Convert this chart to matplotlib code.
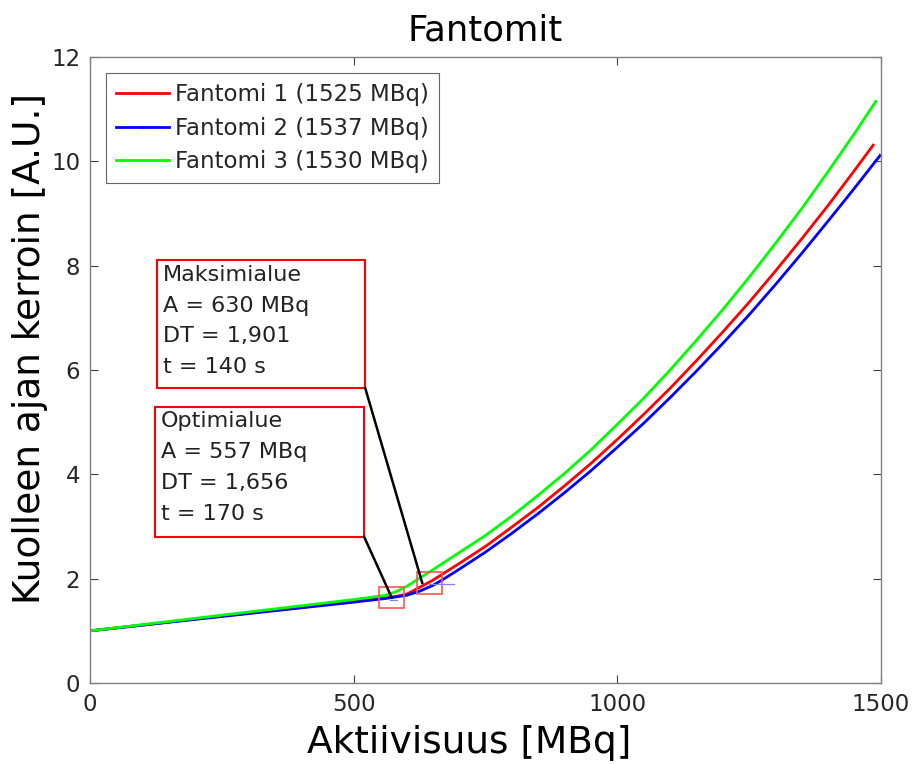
import matplotlib
matplotlib.use("Agg")
import matplotlib.pyplot as plt
from matplotlib.patches import Rectangle

# ---- data ----
x_red = [0, 100, 200, 300, 400, 500, 560, 580, 600, 630, 650, 700, 750, 800, 850, 900, 950,
         1000, 1050, 1100, 1150, 1200, 1250, 1300, 1350, 1400, 1450, 1485]
y_red = [1.00, 1.11, 1.23, 1.34, 1.45, 1.56, 1.63, 1.66, 1.70, 1.86, 1.97, 2.29, 2.62, 2.99, 3.37, 3.78, 4.21,
         4.67, 5.15, 5.65, 6.18, 6.73, 7.30, 7.90, 8.52, 9.16, 9.83, 10.31]

x_blue = [0, 100, 200, 300, 400, 500, 560, 600, 625, 650, 675, 700, 750, 800, 850, 900, 950,
          1000, 1050, 1100, 1150, 1200, 1250, 1300, 1350, 1400, 1450, 1498]
y_blue = [1.00, 1.11, 1.22, 1.33, 1.44, 1.55, 1.62, 1.68, 1.76, 1.87, 2.02, 2.18, 2.51, 2.87, 3.25, 3.65, 4.07,
          4.52, 4.98, 5.47, 5.98, 6.51, 7.06, 7.64, 8.24, 8.86, 9.49, 10.11]

x_green = [0, 100, 200, 300, 400, 500, 560, 580, 600, 625, 650, 700, 750, 800, 850, 900, 950,
           1000, 1050, 1100, 1150, 1200, 1250, 1300, 1350, 1400, 1450, 1490]
y_green = [1.00, 1.12, 1.24, 1.36, 1.48, 1.60, 1.68, 1.75, 1.85, 2.01, 2.17, 2.50, 2.83, 3.20, 3.60, 4.02, 4.47,
           4.96, 5.46, 6.00, 6.57, 7.16, 7.78, 8.43, 9.10, 9.81, 10.54, 11.15]

labels = ["Fantomi 1 (1525 MBq)", "Fantomi 2 (1537 MBq)", "Fantomi 3 (1530 MBq)"]
colors = ["#ff0000", "#0000ff", "#00ff00"]

title = "Fantomit"
xlabel = "Aktiivisuus [MBq]"
ylabel = "Kuolleen ajan kerroin [A.U.]"
xticks = [0, 500, 1000, 1500]
yticks = [0, 2, 4, 6, 8, 10, 12]

max_text = "Maksimialue\nA = 630 MBq\nDT = 1,901\nt = 140 s"
opt_text = "Optimialue\nA = 557 MBq\nDT = 1,656\nt = 170 s"
max_point = (630, 1.92)
opt_point = (572, 1.64)

# ---- figure ----
fig = plt.figure(figsize=(9.19, 7.64), dpi=100)
ax = fig.add_axes([0.0979, 0.106, 0.8608, 0.8194])

axcol = "#404040"
for xs, ys, c, lab in zip([x_red, x_blue, x_green], [y_red, y_blue, y_green], colors, labels):
    ax.plot(xs, ys, color=c, lw=2.0, label=lab, marker='.', markersize=2,
            markevery=[len(xs) // 2], solid_joinstyle="round")

# small highlight rectangles
ax.add_patch(Rectangle((opt_point[0] - 24, opt_point[1] - 0.20), 48, 0.40,
                       fill=False, edgecolor="#ff5555", lw=1.2, zorder=4))
ax.add_patch(Rectangle((max_point[0] - 9, max_point[1] - 0.21), 47, 0.41,
                       fill=False, edgecolor="#ff5555", lw=1.2, zorder=4))
# data tip marks
ax.plot([opt_point[0] - 4, opt_point[0] + 10], [opt_point[1] - 0.04, opt_point[1] - 0.04],
        color="#8080ff", lw=0.9, zorder=4)
ax.plot([max_point[0] + 12, max_point[0] + 60], [max_point[1] - 0.03, max_point[1] - 0.03],
        color="#8080ff", lw=0.9, zorder=4)

# annotation text boxes
def textbox(x0, y0, x1, y1, txt, pt):
    ax.add_patch(Rectangle((x0, y0), x1 - x0, y1 - y0, facecolor="white",
                           edgecolor="#ff0000", lw=1.5, zorder=5))
    ax.text(x0 + 11, y1 - 0.08, txt, ha="left", va="top", fontsize=16,
            color="#222222", linespacing=1.68, zorder=6)
    ax.plot([x1, pt[0]], [y0, pt[1]], color="black", lw=1.8, zorder=5)

textbox(127, 5.65, 522, 8.10, max_text, max_point)
textbox(123, 2.80, 520, 5.29, opt_text, opt_point)

ax.set_xlim(0, 1500)
ax.set_ylim(0, 12)
ax.set_xticks(xticks)
ax.set_yticks(yticks)
ax.tick_params(direction="in", length=6, width=0.8, top=True, right=True,
               labelsize=16.5, colors=axcol, labelcolor="#262626", pad=7)
for s in ax.spines.values():
    s.set_color("#808080")
    s.set_linewidth(1.0)

ax.set_title(title, fontsize=25.5, color="black", pad=12)
ax.set_xlabel(xlabel, fontsize=27, color="black", labelpad=7)
ax.set_ylabel(ylabel, fontsize=27, color="black", labelpad=2)
ax.xaxis.label.set_x(0.48)
ax.yaxis.label.set_y(0.535)

leg = ax.legend(loc="upper left", fontsize=16.5, frameon=True, fancybox=False,
                edgecolor="#404040", borderaxespad=0.7, handlelength=2.3,
                handletextpad=0.25, labelspacing=0.45, borderpad=0.45)
leg.get_frame().set_linewidth(0.8)
for t in leg.get_texts():
    t.set_color("#262626")

fig.savefig("out.png", dpi=100, facecolor="white")
